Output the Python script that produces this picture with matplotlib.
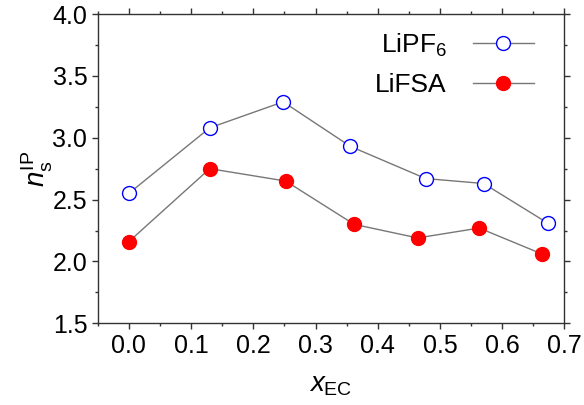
import matplotlib
matplotlib.use("Agg")
import matplotlib.pyplot as plt
from matplotlib.ticker import MultipleLocator

# data
x_pf6 = [0.0, 0.130, 0.248, 0.356, 0.477, 0.570, 0.673]
n_pf6 = [2.55, 3.08, 3.29, 2.93, 2.67, 2.63, 2.31]
x_fsa = [0.0, 0.130, 0.252, 0.362, 0.464, 0.563, 0.664]
n_fsa = [2.16, 2.75, 2.65, 2.30, 2.19, 2.27, 2.06]

plt.rcParams['font.family'] = ['Liberation Sans', 'DejaVu Sans']
plt.rcParams['mathtext.fontset'] = 'custom'
plt.rcParams['mathtext.rm'] = 'Liberation Sans'
plt.rcParams['mathtext.it'] = 'Liberation Sans:italic'

fig = plt.figure(figsize=(5.84, 4.05), dpi=100)
ax = fig.add_axes([0.1673, 0.2017, 0.7993, 0.7637])

ax.plot(x_pf6, n_pf6, '-o', color='#777777', lw=1.0, ms=10,
        mfc='white', mec='#0000ff', mew=1.0, label=r'LiPF$_\mathrm{6}$')
ax.plot(x_fsa, n_fsa, '-o', color='#777777', lw=1.0, ms=10,
        mfc='#ff0000', mec='#ff0000', mew=1.0, label='LiFSA')

ax.set_xlim(-0.05, 0.7)
ax.set_ylim(1.5, 4.0)
ax.xaxis.set_major_locator(MultipleLocator(0.1))
ax.xaxis.set_minor_locator(MultipleLocator(0.05))
ax.yaxis.set_major_locator(MultipleLocator(0.5))
ax.yaxis.set_minor_locator(MultipleLocator(0.25))
ax.tick_params(which='both', direction='out', top=True, right=True,
               labelsize=18, width=1.0, color='#333333')
ax.tick_params(which='major', length=4)
ax.tick_params(which='minor', length=2)
for s in ax.spines.values():
    s.set_linewidth(1.0)
    s.set_color('#333333')

ax.set_xlabel(r'$x_\mathrm{EC}$', fontsize=20, labelpad=10)
ax.set_ylabel(r'$n_\mathrm{s}^\mathrm{IP}$', fontsize=20, labelpad=-2)

ax.legend(loc='upper right', frameon=False, markerfirst=False, fontsize=19,
          handlelength=2.3, handletextpad=1.0, labelspacing=0.55,
          bbox_to_anchor=(0.985, 1.02))

fig.savefig('out.png', dpi=100)
